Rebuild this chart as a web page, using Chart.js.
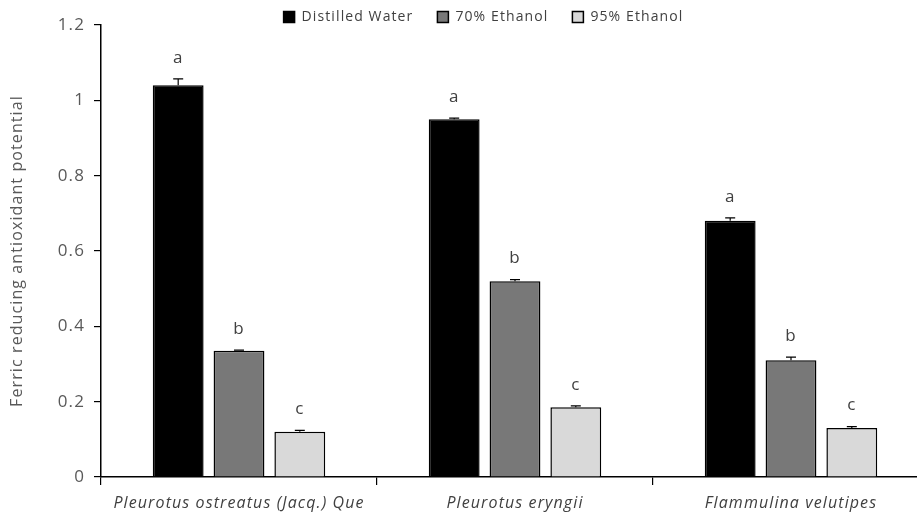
<!DOCTYPE html>
<html>
<head>
<meta charset="utf-8">
<script src="https://cdn.jsdelivr.net/npm/chart.js@4.4.1/dist/chart.umd.min.js"></script>
<style>
  html, body { margin: 0; padding: 0; background: #fff; overflow: hidden; }
  #wrap { position: relative; width: 935px; height: 516px; }
</style>
</head>
<body>
<div id="wrap"><canvas id="c"></canvas></div>
<script>
// Mushroom species (x categories)
const species = ['Pleurotus ostreatus (Jacq.) Que', 'Pleurotus eryngii', 'Flammulina velutipes'];
const seriesNames = ['Distilled Water', '70% Ethanol', '95% Ethanol'];

// FRAP values per extraction solvent
const distilledWater = [1.04, 0.95, 0.68];
const ethanol70 = [0.335, 0.52, 0.31];
const ethanol95 = [0.12, 0.185, 0.13];

// Standard errors
const errDistilled = [0.017, 0.003, 0.008];
const err70 = [0.002, 0.004, 0.008];
const err95 = [0.004, 0.004, 0.004];

// Significance letters
const letters = [['a', 'a', 'a'], ['b', 'b', 'b'], ['c', 'c', 'c']];

const yTicks = [0, 0.2, 0.4, 0.6, 0.8, 1, 1.2];

const fills = ['#000000', '#787878', '#d9d9d9'];
const values = [distilledWater, ethanol70, ethanol95];
const errors = [errDistilled, err70, err95];

// Slightly spaced lettering for all canvas text
const spacingPlugin = {
  id: 'spacing',
  beforeUpdate(chart) { chart.ctx.letterSpacing = '1.1px'; },
  beforeDraw(chart) { chart.ctx.letterSpacing = '1.1px'; }
};

// Legend sits in the band above the plot, nudged right
const legendPlacement = {
  id: 'legendPlacement',
  afterLayout(chart) {
    const lg = chart.legend;
    lg.top -= 14;
    lg.bottom += 8;
    lg.left += 19;
    lg.right += 19;
  }
};

const errorBarPlugin = {
  id: 'errorBars',
  afterDatasetsDraw(chart) {
    const ctx = chart.ctx;
    const y = chart.scales.y;
    ctx.save();
    chart.data.datasets.forEach((ds, i) => {
      const meta = chart.getDatasetMeta(i);
      meta.data.forEach((bar, j) => {
        const v = ds.data[j];
        const e = errors[i][j];
        const top = y.getPixelForValue(v + e);
        const base = y.getPixelForValue(v);
        ctx.strokeStyle = '#000';
        ctx.lineWidth = 1.2;
        ctx.beginPath();
        ctx.moveTo(bar.x, base);
        ctx.lineTo(bar.x, top);
        ctx.moveTo(bar.x - 5, top);
        ctx.lineTo(bar.x + 5, top);
        ctx.stroke();
        ctx.fillStyle = '#404040';
        ctx.font = '17px "Open Sans", sans-serif';
        ctx.textAlign = 'center';
        ctx.textBaseline = 'middle';
        ctx.fillText(letters[i][j], bar.x, top - 21);
      });
    });
    ctx.restore();
  }
};

new Chart(document.getElementById('c'), {
  type: 'bar',
  data: {
    labels: species,
    datasets: seriesNames.map((name, i) => ({
      label: name,
      data: values[i],
      backgroundColor: fills[i],
      borderColor: '#000',
      borderWidth: 1.5,
      categoryPercentage: 0.661,
      barPercentage: 0.836
    }))
  },
  options: {
    responsive: true,
    maintainAspectRatio: false,
    animation: false,
    layout: { padding: { top: 0, right: 6, left: 0, bottom: 0 } },
    plugins: {
      legend: {
        position: 'top',
        maxHeight: 25,
        labels: {
          color: '#404040',
          font: { size: 14, family: '"Open Sans", sans-serif' },
          boxWidth: 11,
          boxHeight: 11,
          padding: 24
        }
      },
      tooltip: { enabled: false }
    },
    scales: {
      x: {
        offset: true,
        grid: { offset: true, drawOnChartArea: false, color: '#000', tickLength: 8, lineWidth: 1.2 },
        border: { color: '#000', width: 1.5 },
        ticks: {
          color: '#404040',
          padding: 9,
          font: { size: 16, style: 'italic', family: '"Open Sans", sans-serif' }
        },
        afterFit(s) { s.height = 39; }
      },
      y: {
        min: 0,
        max: 1.2,
        afterBuildTicks(s) { s.ticks = yTicks.map(v => ({ value: v })); },
        grid: { drawOnChartArea: false, color: '#000', tickLength: 7, lineWidth: 1.2 },
        border: { color: '#000', width: 1.5 },
        ticks: {
          color: '#595959',
          padding: 9,
          font: { size: 17, family: '"Open Sans", sans-serif' },
          callback: v => String(v)
        },
        title: {
          display: true,
          text: 'Ferric reducing antioxidant potential',
          color: '#595959',
          font: { size: 16, family: '"Open Sans", sans-serif' },
          padding: { top: 8, bottom: 0 }
        },
        afterFit(s) { s.width = 101; }
      }
    }
  },
  plugins: [spacingPlugin, legendPlacement, errorBarPlugin]
});
</script>
</body>
</html>
